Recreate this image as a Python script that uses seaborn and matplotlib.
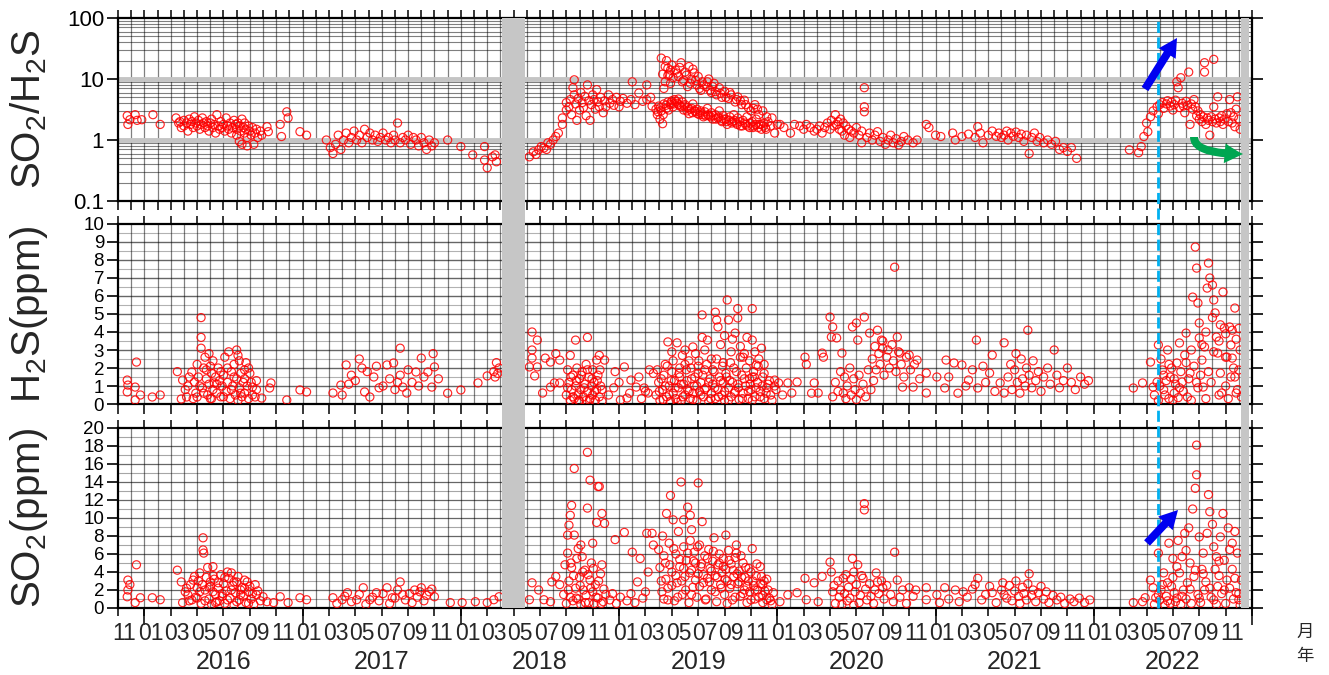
import matplotlib
matplotlib.use("Agg")
import matplotlib.pyplot as plt
import numpy as np
import pandas as pd
import seaborn as sns
from matplotlib.patches import Rectangle, FancyArrowPatch
from matplotlib.lines import Line2D
from matplotlib.transforms import blended_transform_factory

# x = months since 2015-11-01 (decimal)
# ---------------- SO2/H2S ratio ----------------
ratio_2015_17 = [
    (0.7, 2.5), (0.75, 1.8), (0.9, 2.15), (1.3, 2.6), (1.45, 2.1), (1.8, 2.15), (2.65, 2.6), (3.2, 1.8),
    (4.4, 2.3), (4.6, 1.9), (4.7, 2.0), (4.8, 1.6), (5.0, 1.7), (5.0, 2.1), (5.2, 1.9), (5.3, 1.4),
    (5.4, 2.2), (5.5, 1.8), (5.6, 2.0), (5.7, 1.6), (5.8, 2.4), (5.9, 1.9), (6.0, 1.7), (6.1, 2.1),
    (6.2, 1.5), (6.3, 1.8), (6.4, 2.3), (6.5, 1.9), (6.6, 1.6), (6.7, 2.0), (6.8, 1.7), (6.9, 1.4),
    (7.0, 1.9), (7.1, 2.2), (7.2, 1.6), (7.3, 1.8), (7.4, 1.3), (7.5, 2.6), (7.6, 1.7), (7.7, 1.5),
    (7.8, 2.0), (7.9, 1.6), (8.0, 1.8), (8.1, 1.4), (8.2, 2.3), (8.3, 1.7), (8.4, 1.5), (8.5, 1.9),
    (8.6, 1.3), (8.7, 1.6), (8.8, 2.1), (8.9, 1.8), (9.0, 1.5), (9.0, 1.2), (9.1, 1.9), (9.2, 1.7),
    (9.2, 0.95), (9.3, 1.4), (9.4, 2.2), (9.4, 0.85), (9.5, 1.6), (9.6, 1.3), (9.6, 1.9), (9.7, 1.5),
    (9.8, 1.1), (9.8, 0.8), (9.9, 1.7), (10.0, 1.4), (10.1, 1.2), (10.2, 1.6), (10.3, 0.85), (10.4, 1.3),
    (10.5, 1.5), (10.6, 1.1), (10.8, 1.4), (10.9, 1.2), (11.3, 1.65), (11.4, 1.37), (12.3, 1.8),
    (12.4, 1.14), (12.8, 2.9), (12.9, 2.3), (13.8, 1.37), (14.3, 1.2),
    (15.8, 1.0), (16.1, 0.75), (16.3, 0.6), (16.5, 0.85), (16.7, 1.2), (16.9, 0.7), (17.1, 1.0),
    (17.3, 1.3), (17.5, 0.9), (17.7, 1.1), (17.9, 1.4), (18.1, 1.0), (18.3, 1.2), (18.5, 0.9),
    (18.7, 1.5), (18.9, 1.1), (19.1, 1.3), (19.3, 1.0), (19.5, 1.2), (19.7, 0.95), (19.9, 1.1),
    (20.1, 1.3), (20.3, 1.0), (20.5, 1.1), (20.7, 0.9), (20.9, 1.2), (21.0, 1.0), (21.2, 1.9),
    (21.4, 0.9), (21.6, 1.1), (21.8, 1.0), (22.0, 1.2), (22.2, 0.85), (22.4, 1.1), (22.6, 1.0),
    (22.8, 0.8), (23.0, 1.1), (23.2, 0.9), (23.4, 0.7), (23.6, 1.0), (23.8, 0.8), (24.0, 0.9),
    (25.0, 1.0), (26.0, 0.78), (26.9, 0.57), (27.8, 0.78), (27.8, 0.47), (28.0, 0.35), (28.4, 0.53),
    (28.6, 0.57), (28.7, 0.44),
]
ratio_2018_19 = [
    (31.2, 0.53), (31.5, 0.64), (31.7, 0.58), (31.9, 0.69), (32.1, 0.78), (32.3, 0.74), (32.5, 0.7),
    (32.6, 0.9), (32.8, 0.85), (33.0, 1.0), (33.2, 1.14), (33.4, 1.3), (33.7, 1.8), (33.7, 2.3),
    (34.0, 3.1), (34.0, 4.1), (34.2, 3.5), (34.3, 4.6), (34.4, 2.6), (34.5, 7.2), (34.6, 9.7),
    (34.6, 5.5), (34.7, 3.9), (34.8, 2.1), (34.9, 4.8), (35.0, 3.1), (35.1, 6.0), (35.2, 4.1),
    (35.3, 3.4), (35.4, 5.2), (35.5, 2.5), (35.6, 8.0), (35.7, 4.4), (35.8, 2.1), (35.9, 3.8),
    (36.0, 5.5), (36.1, 4.6), (36.2, 3.2), (36.3, 6.7), (36.4, 4.2), (36.5, 3.5), (36.6, 5.0),
    (36.8, 2.8), (36.9, 4.4), (37.0, 3.5), (37.2, 5.5), (37.3, 4.0), (37.5, 4.6), (37.6, 3.7),
    (37.8, 5.0), (38.0, 3.5), (38.1, 4.3), (38.3, 4.8),
    (38.6, 4.0), (38.9, 4.6), (39.0, 9.0), (39.2, 3.8), (39.5, 5.9), (39.8, 4.3), (40.1, 8.0),
    (40.1, 4.6), (40.4, 5.0), (40.5, 3.6),
    (41.2, 22.0), (41.6, 20.0), (41.7, 15.0), (41.8, 12.0), (41.5, 9.0), (41.4, 7.0), (41.7, 11.5),
    (41.9, 8.5), (42.0, 17.0), (42.3, 14.0), (42.5, 11.0), (42.7, 18.5), (42.9, 9.5), (43.0, 13.0),
    (43.2, 7.5), (43.3, 16.0), (43.5, 10.0), (43.7, 12.6), (43.9, 8.0), (44.0, 11.0), (44.2, 6.5),
    (44.3, 9.0), (44.6, 7.5), (44.8, 10.0), (45.0, 6.0), (45.2, 8.5), (45.4, 5.5), (45.6, 7.2),
    (45.8, 5.0), (46.0, 6.3), (46.3, 4.8), (46.5, 5.5), (46.8, 4.2), (47.0, 5.1), (47.3, 3.8),
    (47.5, 4.5), (47.8, 3.4), (48.0, 3.0), (48.3, 3.8), (48.6, 2.6), (48.9, 3.0), (49.2, 2.4),
    (40.8, 3.2), (40.9, 2.6), (41.0, 3.6), (41.1, 2.2), (41.2, 3.0), (41.3, 1.85), (41.4, 3.9),
    (41.6, 3.3), (41.7, 4.2), (41.9, 3.8), (42.0, 4.4), (42.1, 3.5), (42.2, 4.6), (42.4, 4.0),
    (42.5, 4.7), (42.6, 3.6), (42.8, 4.2), (42.9, 3.1), (43.0, 3.8), (43.2, 3.4), (43.3, 2.7),
    (43.5, 3.3), (43.6, 3.9), (43.8, 2.9), (43.9, 3.2), (44.1, 2.6), (44.2, 3.0), (44.4, 2.4),
    (44.5, 2.9), (44.7, 3.3), (44.8, 2.5), (45.0, 2.8), (45.1, 2.2), (45.3, 2.6), (45.5, 2.3),
    (45.6, 3.0), (45.8, 2.0), (45.9, 2.5), (46.1, 2.2), (46.2, 1.8), (46.4, 2.4), (46.6, 2.0),
    (46.7, 2.6), (46.9, 1.9), (47.0, 2.3), (47.2, 1.7), (47.4, 2.1), (47.6, 1.8), (47.7, 2.4),
    (47.9, 1.6), (48.1, 2.0), (48.2, 1.7), (48.4, 2.2), (48.6, 1.8), (48.8, 1.5), (49.0, 1.9),
    (49.1, 1.6), (49.3, 2.0), (49.5, 1.7), (49.6, 2.3), (49.8, 1.3), (50.0, 1.8),
]
ratio_2019_band = [
    (40.95, 2.9), (41.15, 3.4), (41.35, 2.6), (41.55, 3.7), (41.75, 3.1), (41.95, 4.1), (42.15, 3.9),
    (42.35, 4.3), (42.55, 3.8), (42.75, 3.5), (42.95, 3.6), (43.15, 3.0), (43.35, 3.2), (43.55, 2.8),
    (43.75, 3.0), (43.95, 2.7), (44.15, 2.8), (44.35, 2.6), (44.55, 2.5), (44.75, 2.6), (44.95, 2.4),
    (45.15, 2.5), (45.35, 2.2), (45.55, 2.4), (45.75, 2.1), (45.95, 2.2), (46.15, 2.0), (46.35, 2.1),
    (46.55, 1.9), (46.75, 2.1), (46.95, 1.8), (47.15, 2.0), (47.35, 1.7), (47.55, 1.9), (47.75, 1.7),
    (47.95, 1.9), (48.15, 1.6), (48.35, 1.8), (48.55, 1.6), (48.75, 1.8), (48.95, 1.7), (49.15, 1.5),
    (41.3, 12.0), (41.5, 16.0), (41.9, 14.0), (42.1, 10.5), (42.4, 12.5), (42.6, 15.5), (42.8, 9.0),
    (43.1, 11.5), (43.4, 8.5), (43.6, 14.5), (43.8, 9.5), (44.1, 7.0), (44.4, 8.0), (44.7, 9.0),
    (44.9, 6.5), (45.1, 7.5), (45.3, 6.2), (45.7, 5.8), (46.1, 5.0), (46.4, 6.0), (46.9, 4.6),
    (47.2, 4.4), (47.6, 3.8), (48.2, 3.3), (48.5, 3.2),
]
ratio_2020_22 = [
    (50.2, 1.8), (50.5, 1.6), (51.0, 1.3), (51.3, 1.8), (51.7, 1.7), (52.0, 1.5), (52.2, 1.8),
    (52.5, 1.6), (52.8, 1.4), (53.0, 1.5), (53.2, 1.7), (53.4, 1.3), (53.6, 1.6), (53.8, 1.9),
    (54.0, 1.5), (54.1, 2.1), (54.3, 1.7), (54.4, 2.6), (54.5, 1.8), (54.6, 2.0), (54.7, 1.5),
    (54.8, 2.2), (54.9, 1.4), (55.0, 1.9), (55.1, 1.2), (55.2, 1.7), (55.4, 1.5), (55.5, 1.1),
    (55.6, 1.4), (55.8, 1.3), (56.0, 1.6), (56.2, 1.2), (56.4, 1.4), (56.6, 7.2), (56.6, 3.5),
    (56.6, 2.9), (56.4, 0.9), (56.8, 1.1), (57.0, 1.3), (57.2, 1.0), (57.4, 1.2), (57.6, 1.37),
    (57.8, 0.95), (58.0, 1.1), (58.2, 0.85), (58.4, 1.0), (58.6, 1.2), (58.8, 0.9), (59.0, 1.05),
    (59.2, 0.83), (59.4, 0.95), (59.6, 1.14), (59.9, 1.0), (60.3, 0.9), (60.6, 1.0), (61.3, 1.8),
    (61.5, 1.6),
    (62.0, 1.2), (62.4, 1.14), (63.3, 1.3), (63.5, 1.0), (64.0, 1.14), (64.5, 1.25), (65.0, 1.1),
    (65.2, 1.65), (65.4, 1.3), (65.6, 0.9), (66.0, 1.2), (66.3, 1.4), (66.6, 1.15), (66.8, 1.3),
    (67.0, 1.1), (67.2, 1.2), (67.4, 1.4), (67.5, 1.0), (67.7, 1.3), (67.9, 1.15), (68.1, 1.35),
    (68.3, 1.1), (68.5, 1.25), (68.7, 0.95), (68.9, 1.2), (69.1, 0.6), (69.3, 1.1), (69.5, 1.3),
    (69.7, 0.95), (69.9, 1.1), (70.2, 0.9), (70.5, 1.0), (70.8, 0.85), (71.1, 0.95), (71.4, 0.7),
    (71.7, 0.75), (72.0, 0.65), (72.3, 0.75), (72.7, 0.5),
    (76.7, 0.69), (77.4, 0.62), (77.6, 0.78), (77.8, 1.14), (78.1, 1.37), (78.0, 1.9), (78.3, 2.4),
    (78.5, 3.0), (78.8, 3.5), (78.9, 2.7), (79.0, 3.8), (79.2, 4.1), (79.3, 3.3), (79.5, 3.9),
    (79.6, 4.4), (79.8, 3.6), (79.9, 4.2), (80.0, 3.1), (80.1, 3.8), (80.2, 4.5), (80.3, 9.0),
    (80.4, 7.2), (80.5, 3.4), (80.6, 10.5), (80.7, 4.0), (80.8, 3.6), (80.9, 2.8), (81.0, 4.3),
    (81.1, 3.7), (81.2, 13.0), (81.3, 1.8), (81.4, 3.9), (81.5, 3.2), (81.6, 4.6), (81.7, 3.5),
    (81.8, 2.5), (81.9, 3.0), (82.0, 2.2), (82.1, 2.6), (82.2, 2.0), (82.3, 2.4), (82.4, 18.5),
    (82.4, 13.0), (82.5, 1.8), (82.6, 2.3), (82.7, 2.1), (82.8, 1.2), (82.9, 2.4), (83.0, 2.0),
    (83.1, 21.0), (83.1, 3.5), (83.2, 2.2), (83.3, 1.9), (83.4, 5.1), (83.5, 2.3), (83.6, 2.0),
    (83.7, 2.5), (83.8, 1.8), (83.9, 2.2), (84.1, 2.7), (84.2, 2.0), (84.3, 4.6), (84.4, 2.8),
    (84.5, 1.9), (84.6, 2.4), (84.7, 1.65), (84.8, 3.2), (84.9, 5.1), (85.0, 2.2), (85.1, 1.5),
]

# ---------------- H2S (ppm) ----------------
h2s_2015_17 = [
    (0.7, 1.33), (0.75, 1.05), (0.7, 0.67), (1.3, 0.94), (1.3, 0.22), (1.4, 2.33), (1.7, 0.5),
    (2.6, 0.39), (3.2, 0.5),
    (4.5, 1.8), (4.8, 0.28), (4.9, 1.33), (5.2, 0.39), (5.3, 1.0), (5.6, 1.78), (5.8, 1.22),
    (5.9, 0.6), (6.0, 0.39), (6.1, 1.5), (6.3, 4.8), (6.3, 3.7), (6.3, 3.1), (6.4, 0.9), (6.5, 2.0),
    (6.6, 2.6), (6.7, 1.4), (6.8, 0.5), (6.9, 2.8), (6.9, 1.1), (7.0, 2.1), (7.1, 0.3), (7.1, 1.7),
    (7.2, 0.8), (7.3, 1.17), (7.4, 1.5), (7.5, 0.6), (7.6, 2.0), (7.7, 1.3), (7.8, 0.4), (7.9, 1.0),
    (8.0, 1.6), (8.1, 2.6), (8.2, 0.7), (8.3, 1.2), (8.4, 2.9), (8.5, 0.3), (8.6, 1.8), (8.7, 1.0),
    (8.8, 2.2), (8.9, 0.5), (9.0, 3.0), (9.0, 1.4), (9.1, 0.2), (9.2, 2.4), (9.2, 0.9), (9.3, 1.7),
    (9.4, 0.4), (9.5, 1.2), (9.6, 1.9), (9.6, 0.6), (9.7, 2.3), (9.8, 1.0), (9.9, 0.3), (10.0, 1.7),
    (10.1, 1.2), (10.2, 0.94), (10.4, 0.39), (10.5, 0.8), (10.9, 0.33), (11.5, 0.89), (11.6, 1.17),
    (12.8, 0.22), (13.8, 0.78), (14.3, 0.67),
    (5.1, 0.8), (5.4, 1.5), (5.7, 0.3), (6.0, 2.2), (6.2, 1.0), (6.5, 0.6), (6.7, 1.9), (7.0, 0.3),
    (7.2, 2.4), (7.5, 1.1), (7.8, 1.8), (8.0, 0.4), (8.3, 2.0), (8.6, 0.8), (8.8, 1.5), (9.1, 2.7),
    (9.3, 0.6), (9.6, 1.4), (9.9, 2.0), (10.2, 0.5), (10.5, 1.3),
    (16.3, 0.61), (16.9, 1.05), (17.3, 2.17), (17.7, 1.6), (18.3, 2.5), (18.5, 2.0), (18.7, 0.67),
    (19.1, 0.39), (19.4, 1.5), (19.8, 0.9), (20.4, 2.17), (20.9, 2.28), (21.2, 1.2), (21.4, 3.1),
    (21.4, 1.6), (21.6, 0.94), (21.9, 0.61), (22.6, 1.78), (23.0, 2.55), (23.5, 1.78), (23.9, 2.8),
    (24.0, 2.06), (23.8, 0.94), (25.0, 0.6), (17.0, 0.5), (17.5, 1.1), (18.0, 1.3), (18.9, 1.8),
    (19.6, 2.1), (20.1, 1.0), (20.6, 1.4), (21.0, 0.8), (22.0, 1.9), (22.3, 1.2), (22.8, 1.0),
    (23.2, 1.5), (24.3, 1.4),
    (26.0, 0.78), (27.3, 1.17), (28.0, 1.56), (28.5, 1.8), (28.7, 2.3), (28.6, 1.5), (28.9, 2.0),
    (28.8, 1.7),
]
h2s_2018_19 = [
    (31.4, 4.0), (31.4, 3.0), (31.4, 2.55), (31.2, 2.06), (31.8, 3.55), (31.8, 2.06), (31.6, 1.56),
    (32.2, 0.61), (32.4, 2.55), (32.8, 2.33), (33.2, 2.8), (33.5, 2.44), (32.8, 0.94), (33.1, 1.17),
    (33.5, 1.17), (34.1, 1.9), (34.3, 2.7), (34.7, 3.55), (35.6, 3.7),
    (34.0, 0.5), (34.2, 1.2), (34.3, 0.2), (34.4, 0.8), (34.5, 1.6), (34.6, 0.3), (34.7, 1.0),
    (34.8, 2.0), (34.9, 0.5), (35.0, 1.4), (35.0, 0.15), (35.1, 0.8), (35.2, 1.8), (35.3, 0.4),
    (35.4, 1.1), (35.5, 0.2), (35.5, 2.2), (35.6, 0.7), (35.7, 1.5), (35.8, 0.3), (35.9, 1.0),
    (36.0, 1.9), (36.0, 0.5), (36.1, 1.2), (36.2, 0.2), (36.3, 0.8), (36.4, 1.6), (36.5, 0.4),
    (36.6, 1.0), (36.7, 0.15), (36.3, 2.44), (36.5, 2.7), (36.9, 2.44), (37.7, 1.8), (38.4, 2.06),
    (38.9, 1.33), (39.3, 0.94), (39.9, 0.89), (40.3, 1.9), (40.6, 1.7), (40.2, 0.61), (38.6, 0.33),
    (38.1, 0.22), (37.2, 0.5), (37.6, 0.9), (38.0, 1.2), (38.8, 0.6), (39.5, 1.5), (39.7, 0.3),
    (40.0, 0.7),
    (34.1, 0.9), (34.35, 1.5), (34.5, 0.4), (34.75, 1.3), (34.95, 0.2), (35.15, 1.6), (35.35, 0.9),
    (35.6, 1.9), (35.75, 0.2), (35.95, 1.4), (36.15, 0.7), (36.35, 1.3), (36.55, 1.9), (36.7, 0.8),
    (41.7, 3.45), (42.4, 3.4), (42.8, 2.7), (43.6, 3.17), (44.3, 4.95), (44.3, 3.7), (44.7, 3.55),
    (45.3, 5.1), (45.4, 4.67), (45.5, 4.28), (46.2, 5.78), (46.3, 4.67), (47.0, 5.3), (47.0, 4.78),
    (46.8, 3.94), (48.1, 5.3), (48.1, 3.55), (48.8, 3.1), (47.4, 2.6), (48.4, 2.17), (48.1, 1.5),
    (41.5, 2.2), (42.0, 2.9), (42.6, 2.0), (43.0, 3.0), (43.3, 2.4), (43.8, 2.8), (44.0, 2.1),
    (44.5, 3.0), (45.0, 2.5), (45.7, 3.3), (45.9, 2.3), (46.0, 3.8), (46.5, 2.9), (46.6, 3.6),
    (47.2, 3.2), (47.5, 2.8), (47.7, 3.7), (47.9, 2.4), (48.3, 2.9), (48.6, 2.5), (49.0, 2.2),
    (40.8, 0.5), (41.0, 1.2), (41.1, 0.2), (41.3, 0.8), (41.4, 1.6), (41.6, 0.4), (41.8, 1.0),
    (41.9, 0.15), (42.0, 1.8), (42.1, 0.6), (42.2, 1.3), (42.3, 0.3), (42.5, 0.9), (42.6, 1.5),
    (42.7, 0.2), (42.9, 1.1), (43.0, 0.5), (43.1, 1.9), (43.2, 0.8), (43.4, 0.3), (43.5, 1.4),
    (43.6, 0.6), (43.7, 1.0), (43.9, 0.2), (44.0, 1.7), (44.1, 0.7), (44.2, 1.2), (44.4, 0.4),
    (44.5, 1.9), (44.6, 0.9), (44.8, 0.15), (44.9, 1.4), (45.0, 0.6), (45.1, 1.1), (45.2, 1.8),
    (45.3, 0.3), (45.5, 0.8), (45.6, 1.5), (45.8, 0.5), (45.9, 1.2), (46.0, 0.2), (46.1, 1.7),
    (46.3, 0.9), (46.4, 1.3), (46.5, 0.4), (46.7, 2.0), (46.8, 0.7), (47.0, 1.1), (47.1, 0.25),
    (47.3, 1.6), (47.4, 0.6), (47.6, 1.0), (47.8, 0.3), (47.9, 1.4), (48.0, 0.8), (48.2, 1.8),
    (48.3, 0.4), (48.5, 1.2), (48.7, 0.7), (48.9, 1.5), (49.0, 0.3), (49.2, 0.9), (49.4, 1.3),
    (49.5, 0.5), (49.8, 1.0), (49.8, 1.33), (50.1, 1.17), (50.4, 0.5), (50.8, 1.17), (51.1, 0.61),
    (51.5, 1.22),
]
h2s_2019_dense = [
    (40.9, 1.9), (41.05, 0.7), (41.2, 1.4), (41.35, 0.25), (41.5, 1.0), (41.65, 2.1), (41.8, 0.5),
    (41.95, 1.3), (42.1, 2.4), (42.25, 0.9), (42.4, 0.1), (42.55, 1.7), (42.7, 1.1), (42.85, 0.4),
    (43.0, 2.2), (43.15, 1.3), (43.3, 0.7), (43.45, 2.0), (43.6, 0.25), (43.75, 1.5), (43.9, 1.0),
    (44.05, 2.4), (44.2, 0.5), (44.35, 1.6), (44.5, 0.8), (44.65, 2.2), (44.8, 1.2), (44.95, 0.3),
    (45.1, 1.9), (45.25, 0.9), (45.4, 2.5), (45.55, 0.4), (45.7, 1.3), (45.85, 2.1), (46.0, 0.7),
    (46.15, 1.5), (46.3, 0.2), (46.45, 2.3), (46.6, 1.2), (46.75, 0.6), (46.9, 1.8), (47.05, 0.9),
    (47.2, 2.6), (47.35, 0.3), (47.5, 1.4), (47.65, 2.0), (47.8, 0.7), (47.95, 1.1), (48.1, 0.2),
    (48.25, 1.5), (48.4, 0.9), (48.55, 2.1), (48.7, 0.4), (48.85, 1.0), (49.0, 1.7), (49.15, 0.6),
    (49.3, 1.1), (49.6, 0.2), (49.9, 0.8),
]
h2s_2020_22 = [
    (52.1, 2.6), (52.2, 2.2), (52.6, 0.6), (52.8, 1.17), (53.1, 0.61), (53.4, 2.83), (53.5, 2.6),
    (54.0, 4.83), (54.2, 4.28), (54.1, 3.72), (54.5, 3.67), (54.9, 2.83), (55.1, 1.5), (55.0, 0.61),
    (55.7, 4.28), (56.0, 4.5), (56.6, 4.83), (56.1, 3.55), (57.0, 3.94), (57.6, 4.1), (57.9, 3.55),
    (58.0, 3.1), (58.9, 7.6), (59.1, 3.72), (59.3, 2.83), (60.0, 2.72), (60.6, 2.44), (59.5, 0.94),
    (60.3, 0.94), (61.3, 1.72), (61.3, 0.61), (62.1, 1.5),
    (54.2, 0.4), (54.4, 1.2), (54.6, 0.7), (54.8, 1.8), (55.2, 0.3), (55.3, 1.0), (55.5, 2.0),
    (55.6, 0.5), (55.8, 1.4), (55.9, 0.8), (56.0, 0.25), (56.2, 1.6), (56.3, 0.6), (56.5, 1.1),
    (56.7, 0.4), (56.9, 1.9), (57.1, 0.8), (57.3, 1.3),
    (57.2, 2.5), (57.4, 3.2), (57.5, 1.9), (57.7, 2.8), (57.8, 2.2), (58.0, 3.5), (58.1, 1.6),
    (58.3, 2.6), (58.4, 3.0), (58.5, 2.0), (58.7, 3.3), (58.8, 2.4), (59.0, 1.8), (59.2, 2.9),
    (59.4, 2.2), (59.6, 1.5), (59.8, 2.6), (60.1, 1.9), (60.4, 2.2), (60.8, 1.4),
    (62.8, 2.44), (63.4, 2.28), (62.7, 0.89), (64.0, 2.17), (64.5, 1.33), (65.1, 3.55), (65.2, 0.89),
    (66.1, 1.72), (66.3, 2.72), (67.2, 3.4), (66.9, 1.17), (67.2, 0.61),
    (67.5, 1.5), (67.7, 2.2), (67.8, 0.8), (68.0, 1.9), (68.1, 2.8), (68.2, 1.2), (68.4, 0.6),
    (68.5, 2.5), (68.6, 1.4), (68.8, 1.0), (68.9, 2.0), (69.0, 4.1), (69.1, 1.6), (69.3, 0.9),
    (69.4, 2.4), (69.6, 1.3), (69.8, 1.8), (70.0, 0.7), (70.2, 1.5), (70.5, 2.0), (70.7, 1.1),
    (71.0, 3.0), (71.2, 1.6), (71.4, 0.9), (71.7, 1.3), (72.0, 2.0), (72.3, 1.2), (72.6, 0.8),
    (73.0, 1.5), (73.3, 1.1), (73.6, 1.3), (63.0, 1.5), (63.7, 0.6), (64.3, 1.0), (64.8, 1.9),
    (65.6, 2.1), (65.8, 1.2), (66.5, 0.7),
    (77.0, 0.89), (77.7, 1.17), (78.3, 2.33), (78.5, 0.94), (78.8, 1.22), (78.9, 3.28), (79.2, 1.89),
    (79.4, 0.5), (79.6, 3.0), (79.8, 1.5), (80.0, 0.22), (80.3, 2.28), (80.5, 3.39), (80.7, 1.22),
    (80.9, 2.72), (81.0, 3.94), (81.1, 0.39), (81.3, 1.72), (81.5, 5.94), (81.7, 8.72), (81.8, 7.55),
    (81.9, 5.61), (82.0, 3.67), (82.2, 2.44), (82.3, 0.94), (82.4, 3.17), (82.6, 6.44), (82.7, 7.83),
    (82.8, 7.0), (83.0, 6.61), (83.1, 5.78), (83.2, 5.06), (83.3, 3.72), (83.4, 2.83), (83.6, 1.72),
    (83.7, 0.61), (83.8, 6.22), (83.9, 4.22), (84.1, 2.61), (84.3, 4.28), (84.4, 3.28), (84.5, 2.55),
    (84.7, 5.33), (84.7, 1.5), (84.8, 0.61), (85.0, 1.89), (85.2, 0.39),
    (78.6, 0.5), (78.9, 0.2), (79.0, 1.0), (79.1, 2.5), (79.3, 0.8), (79.5, 1.3), (79.7, 0.3),
    (79.9, 2.0), (80.1, 0.6), (80.2, 1.1), (80.4, 0.35), (80.6, 1.8), (80.8, 0.7), (81.2, 1.4),
    (81.4, 0.2), (81.6, 2.1), (81.9, 0.9), (82.1, 1.6), (82.5, 0.3), (82.9, 1.2), (83.5, 0.5),
    (84.0, 1.0), (84.2, 0.3), (84.6, 2.0), (84.9, 0.8), (85.1, 3.0), (82.0, 4.5), (82.5, 4.0),
    (83.0, 4.8), (83.5, 3.5), (84.0, 3.9), (84.5, 4.1), (85.0, 4.2),
    (79.3, 1.6), (79.7, 2.2), (80.1, 1.4), (80.5, 0.9), (81.0, 2.3), (81.4, 3.0), (81.8, 1.2),
    (82.2, 3.3), (82.7, 1.8), (83.1, 2.9), (83.6, 4.4), (84.0, 2.6), (84.4, 1.5), (84.8, 3.6),
]

# ---------------- SO2 (ppm) ----------------
so2_2015_17 = [
    (0.75, 3.1), (0.9, 2.6), (0.75, 2.0), (0.7, 1.25), (1.4, 4.8), (1.3, 0.6), (1.7, 1.14),
    (2.6, 1.14), (3.2, 0.92),
    (4.5, 4.2), (4.8, 2.9), (5.1, 1.8), (4.9, 0.6), (5.3, 1.47), (5.8, 3.5), (6.0, 2.25), (6.2, 1.8),
    (6.45, 7.8), (6.45, 6.45), (6.5, 6.1), (6.8, 4.5), (7.2, 4.6), (7.0, 2.9), (7.2, 1.8), (7.5, 0.7),
    (8.3, 4.0), (8.6, 3.9), (9.0, 2.9), (9.4, 2.25), (9.8, 2.9), (10.4, 2.6), (10.5, 1.47),
    (11.0, 1.25), (11.3, 0.7), (11.8, 0.6), (12.3, 1.25), (12.9, 0.6), (13.8, 1.14), (14.3, 0.92),
    (5.5, 2.6), (5.6, 0.9), (5.9, 1.2), (6.1, 3.0), (6.3, 0.5), (6.6, 2.0), (6.7, 3.4), (6.9, 1.0),
    (7.0, 2.4), (7.1, 0.4), (7.3, 3.2), (7.4, 1.5), (7.6, 2.2), (7.7, 0.8), (7.8, 3.7), (7.9, 1.3),
    (8.0, 2.7), (8.1, 0.5), (8.2, 1.9), (8.4, 3.3), (8.5, 1.1), (8.7, 2.5), (8.8, 0.3), (8.9, 1.7),
    (9.1, 3.5), (9.2, 0.9), (9.3, 2.0), (9.5, 1.3), (9.6, 3.1), (9.7, 0.6), (9.9, 1.8), (10.0, 2.4),
    (10.1, 1.0), (10.3, 0.4), (10.6, 1.9), (10.8, 0.8),
    (5.2, 2.2), (5.4, 0.8), (5.7, 3.1), (6.0, 1.1), (6.2, 3.9), (6.4, 2.6), (6.6, 0.8), (6.9, 2.3),
    (7.2, 3.6), (7.4, 0.6), (7.6, 2.8), (7.9, 1.6), (8.1, 3.4), (8.3, 0.9), (8.6, 2.0), (8.8, 2.9),
    (9.0, 0.7), (9.3, 1.5), (9.6, 2.2), (9.9, 0.5), (10.2, 1.6),
    (16.3, 1.14), (17.0, 0.92), (17.4, 1.7), (18.1, 0.92), (18.6, 2.25), (19.1, 0.92), (19.6, 1.7),
    (20.4, 2.25), (20.8, 1.14), (21.4, 2.9), (21.6, 1.47), (22.5, 2.0), (23.0, 2.25), (23.6, 1.8),
    (24.0, 1.25), (25.2, 0.6), (26.1, 0.6), (27.1, 0.7), (28.0, 0.6), (28.5, 0.92), (28.9, 1.25),
    (16.6, 0.5), (17.2, 1.3), (17.7, 0.7), (18.3, 1.5), (18.8, 0.4), (19.3, 1.2), (19.8, 0.8),
    (20.1, 1.6), (20.6, 0.5), (21.0, 1.1), (21.2, 2.0), (21.8, 0.9), (22.1, 1.6), (22.3, 0.6),
    (22.7, 1.2), (22.9, 1.8), (23.2, 0.8), (23.4, 1.4), (23.8, 2.1),
]
so2_2018_19 = [
    (31.2, 0.92), (31.4, 2.8), (31.9, 2.0), (32.3, 0.92), (32.8, 0.7), (32.9, 2.9), (33.2, 3.5),
    (33.5, 2.6), (33.9, 4.8), (34.1, 6.1), (34.1, 8.1), (34.2, 9.2), (34.3, 10.3), (34.4, 11.4),
    (34.6, 15.5), (34.6, 8.1), (35.2, 5.7), (35.1, 7.0), (35.6, 17.3), (35.6, 11.1), (35.8, 14.2),
    (36.0, 7.2), (36.3, 9.5), (36.4, 13.5), (36.5, 13.5), (36.7, 4.8), (36.7, 10.5), (36.9, 9.4),
    (37.7, 7.6), (38.4, 8.4), (39.0, 6.2), (39.4, 2.9), (39.6, 5.5), (40.1, 8.3), (40.2, 4.0),
    (40.5, 8.3), (40.6, 7.0), (40.0, 1.8),
    (33.8, 1.5), (34.0, 0.5), (34.2, 3.0), (34.3, 1.2), (34.4, 4.5), (34.5, 0.8), (34.7, 2.2),
    (34.8, 5.5), (34.9, 1.0), (35.0, 3.4), (35.1, 0.4), (35.3, 2.0), (35.4, 4.2), (35.5, 1.4),
    (35.7, 0.6), (35.8, 3.1), (35.9, 5.0), (36.0, 1.8), (36.1, 0.5), (36.2, 2.6), (36.4, 1.1),
    (36.6, 3.8), (36.8, 0.7), (37.0, 1.5), (37.3, 0.9), (37.5, 1.6), (37.8, 0.5), (38.1, 1.2),
    (38.6, 0.8), (38.9, 1.6), (39.2, 0.6), (39.8, 1.1),
    (34.15, 2.0), (34.35, 5.0), (34.55, 3.6), (34.75, 1.1), (34.9, 6.6), (35.05, 2.5), (35.25, 4.0),
    (35.45, 0.6), (35.65, 3.7), (35.85, 2.2), (36.05, 4.4), (36.25, 1.2), (36.45, 3.0), (36.65, 0.5),
    (36.85, 2.1),
    (41.6, 10.5), (41.9, 12.5), (42.7, 14.0), (43.2, 11.2), (43.4, 10.3), (42.9, 9.8), (42.1, 9.8),
    (44.3, 9.6), (43.5, 8.7), (44.0, 13.9), (46.1, 8.1), (46.9, 7.0), (48.1, 6.6), (46.9, 6.1),
    (48.8, 3.5), (48.9, 2.6), (49.2, 0.92), (49.7, 1.7), (50.2, 0.7), (50.8, 1.47), (51.5, 1.7),
    (41.0, 6.5), (41.2, 3.0), (41.3, 8.0), (41.4, 1.0), (41.5, 5.0), (41.7, 2.2), (41.8, 7.2),
    (42.0, 4.0), (42.2, 0.8), (42.3, 6.0), (42.4, 2.8), (42.5, 8.5), (42.6, 4.6), (42.8, 1.5),
    (42.9, 6.8), (43.0, 3.5), (43.1, 5.3), (43.3, 0.6), (43.4, 7.5), (43.5, 4.2), (43.6, 2.3),
    (43.7, 6.2), (43.8, 5.0), (43.9, 1.2), (44.0, 3.8), (44.1, 7.0), (44.2, 4.6), (44.4, 2.8),
    (44.5, 5.8), (44.6, 1.0), (44.7, 3.3), (44.8, 6.5), (44.9, 4.4), (45.0, 2.0), (45.1, 5.2),
    (45.2, 7.8), (45.3, 3.6), (45.4, 0.7), (45.5, 4.8), (45.6, 6.0), (45.7, 2.6), (45.8, 3.9),
    (45.9, 5.5), (46.0, 1.5), (46.1, 4.3), (46.2, 3.0), (46.3, 6.4), (46.4, 2.2), (46.5, 4.9),
    (46.6, 0.9), (46.7, 3.5), (46.8, 5.6), (47.0, 2.7), (47.1, 4.1), (47.2, 1.3), (47.3, 3.4),
    (47.4, 5.0), (47.5, 2.0), (47.6, 4.5), (47.7, 0.6), (47.8, 3.0), (47.9, 1.8), (48.0, 4.0),
    (48.2, 2.5), (48.3, 1.0), (48.4, 3.6), (48.5, 2.0), (48.7, 4.6), (48.9, 1.4), (49.0, 3.0),
    (49.3, 2.0), (49.5, 0.8),
]
so2_2019_dense = [
    (41.1, 4.5), (41.25, 1.8), (41.4, 5.8), (41.55, 3.2), (41.7, 0.9), (41.85, 4.8), (42.0, 2.5),
    (42.15, 6.6), (42.3, 3.6), (42.45, 1.2), (42.6, 5.4), (42.75, 3.0), (42.9, 4.4), (43.05, 2.0),
    (43.2, 6.1), (43.35, 3.9), (43.5, 1.5), (43.65, 5.2), (43.8, 3.1), (43.95, 6.8), (44.1, 2.4),
    (44.25, 4.9), (44.4, 3.7), (44.55, 0.9), (44.7, 5.5), (44.85, 2.9), (45.0, 4.1), (45.15, 6.3),
    (45.3, 1.8), (45.45, 3.4), (45.6, 5.0), (45.75, 2.2), (45.9, 4.6), (46.05, 3.2), (46.2, 0.5),
    (46.35, 5.3), (46.5, 2.6), (46.65, 4.2), (46.8, 1.2), (46.95, 3.8), (47.1, 2.9), (47.25, 5.8),
    (47.4, 1.6), (47.55, 3.4), (47.7, 2.4), (47.85, 4.4), (48.0, 0.9), (48.15, 3.0), (48.3, 2.0),
    (48.45, 4.9), (48.6, 1.2), (48.75, 2.7), (48.9, 0.6), (49.05, 1.9), (49.2, 3.2), (49.4, 1.1),
    (49.6, 0.4),
]
so2_2020_22 = [
    (52.1, 3.3), (52.2, 0.92), (52.8, 2.8), (53.1, 0.7), (53.4, 3.5), (54.0, 5.1), (54.1, 4.0),
    (54.2, 1.8), (55.0, 3.3), (55.7, 5.5), (55.8, 4.0), (56.1, 4.8), (56.6, 11.6), (56.6, 10.9),
    (56.5, 3.3), (57.5, 3.9), (57.6, 2.9), (58.0, 2.25), (58.9, 6.2), (59.1, 3.1), (59.5, 2.0),
    (60.0, 2.25), (60.5, 2.0), (61.3, 2.25), (61.3, 0.92), (62.1, 1.47), (62.7, 2.25), (63.5, 2.0),
    (64.1, 1.8), (65.0, 2.6), (65.2, 3.3), (66.1, 2.4), (66.3, 1.7), (67.1, 2.8), (67.2, 1.47),
    (54.3, 2.5), (54.4, 0.5), (54.6, 3.0), (54.7, 1.2), (54.8, 2.0), (54.9, 0.4), (55.1, 1.6),
    (55.2, 3.7), (55.3, 0.8), (55.4, 2.3), (55.5, 1.1), (55.6, 3.2), (55.8, 0.3), (55.9, 1.8),
    (56.0, 2.6), (56.2, 0.6), (56.3, 1.4), (56.4, 3.6), (56.7, 2.1), (56.8, 0.9), (57.0, 2.7),
    (57.1, 1.3), (57.3, 0.5), (57.4, 2.0), (57.7, 1.6), (57.9, 3.0), (58.1, 1.0), (58.3, 2.5),
    (58.6, 1.5), (58.8, 0.7), (59.3, 1.2), (59.8, 0.5), (60.3, 1.3),
    (62.3, 0.6), (63.0, 1.0), (63.8, 0.7), (64.4, 1.2), (64.8, 2.1), (65.5, 0.9), (65.8, 1.5),
    (66.6, 0.6), (67.0, 2.0), (67.4, 1.1), (67.6, 2.5), (67.8, 0.8), (68.0, 1.9), (68.1, 3.0),
    (68.3, 1.3), (68.4, 0.5), (68.6, 2.3), (68.7, 1.6), (68.9, 0.9), (69.0, 2.7), (69.1, 3.8),
    (69.3, 1.4), (69.4, 2.0), (69.6, 0.7), (69.8, 1.7), (70.0, 2.4), (70.2, 1.0), (70.4, 1.8),
    (70.6, 0.6), (70.9, 1.4), (71.2, 0.9), (71.5, 1.2), (71.8, 0.5), (72.2, 1.0), (72.5, 0.7),
    (72.9, 1.1), (73.3, 0.6), (73.7, 0.9),
    (77.0, 0.6), (77.7, 0.7), (77.9, 1.14), (78.3, 3.1), (78.5, 2.25), (78.7, 1.14), (78.9, 6.1),
    (78.9, 1.47), (79.3, 3.9), (79.6, 2.8), (79.7, 7.2), (80.0, 5.5), (80.1, 1.7), (80.2, 0.7),
    (80.4, 7.5), (80.5, 3.9), (80.7, 5.7), (80.9, 8.3), (81.1, 2.8), (81.2, 8.9), (81.3, 5.0),
    (81.5, 11.0), (81.7, 13.3), (81.8, 14.8), (81.8, 18.1), (82.0, 7.9), (82.2, 4.3), (82.3, 6.1),
    (82.4, 2.0), (82.6, 8.3), (82.7, 12.6), (82.8, 10.7), (83.0, 9.3), (83.1, 6.8), (83.2, 4.3),
    (83.3, 5.7), (83.4, 2.4), (83.6, 7.9), (83.8, 10.5), (83.9, 5.3), (84.1, 3.1), (84.2, 8.9),
    (84.5, 7.2), (84.5, 4.3), (84.7, 8.5), (84.8, 1.7), (84.9, 6.1), (85.0, 0.92), (85.2, 3.1),
    (78.6, 0.4), (79.0, 0.9), (79.1, 2.0), (79.4, 0.3), (79.5, 1.3), (79.8, 0.5), (79.9, 2.4),
    (80.3, 1.1), (80.6, 0.4), (80.8, 2.0), (81.0, 1.0), (81.4, 0.5), (81.6, 3.5), (81.9, 1.5),
    (82.1, 0.6), (82.5, 2.9), (82.9, 1.2), (83.3, 0.4), (83.5, 3.6), (83.7, 1.6), (84.0, 0.5),
    (84.3, 2.2), (84.6, 1.0), (85.1, 0.3),
    (79.2, 2.6), (79.6, 0.8), (80.0, 3.4), (80.3, 4.6), (80.7, 1.3), (81.0, 6.4), (81.3, 2.1),
    (81.7, 4.2), (82.0, 1.1), (82.3, 3.8), (82.8, 2.2), (83.1, 0.9), (83.5, 5.2), (83.9, 2.0),
    (84.3, 6.5), (84.7, 3.3), (85.0, 1.6),
]

# ---------------- axis text ----------------
years = [2016, 2017, 2018, 2019, 2020, 2021, 2022]
panel_labels = ["SO$_2$/H$_2$S", "H$_2$S(ppm)", "SO$_2$(ppm)"]
ratio_ticks = [0.1, 1, 10, 100]
ratio_ticklabels = ["0.1", "1", "10", "100"]
h2s_ticks = list(range(0, 11))
so2_ticks = list(range(0, 21, 2))
gap_band = (29.1, 30.9)       # missing-data period (months since 2015-11)
end_band = (85.2, 85.75)
event_month = 78.85           # dashed reference line

sns.set_theme(style="white")
plt.rcParams["font.family"] = ["Liberation Sans", "DejaVu Sans"]
plt.rcParams["mathtext.fontset"] = "custom"
plt.rcParams["mathtext.rm"] = "Liberation Sans"
plt.rcParams["mathtext.it"] = "Liberation Sans:italic"
plt.rcParams["mathtext.default"] = "regular"

W, H = 1329, 675
fig = plt.figure(figsize=(W / 100, H / 100), dpi=100)
L, R = 118, 1252
panels = [(18, 201), (224, 404), (428, 608)]
axes = [fig.add_axes([L / W, 1 - b / H, (R - L) / W, (b - t) / H]) for t, b in panels]
NM = 86

datasets = [ratio_2015_17 + ratio_2018_19 + ratio_2019_band + ratio_2020_22,
            h2s_2015_17 + h2s_2018_19 + h2s_2019_dense + h2s_2020_22,
            so2_2015_17 + so2_2018_19 + so2_2019_dense + so2_2020_22]

for i, (ax, pts) in enumerate(zip(axes, datasets)):
    df = pd.DataFrame(pts, columns=["month", "value"])
    if i == 0:
        ax.set_yscale("log")
    sns.scatterplot(data=df, x="month", y="value", ax=ax, marker="o", s=34,
                    facecolors="none", edgecolor="#ff0000", linewidth=0.85,
                    alpha=0.85, zorder=4, legend=False)
    ax.set_xlim(0, NM)
    ax.set_xlabel("")
    ax.set_ylabel("")
    ax.set_facecolor("white")
    for s in ax.spines.values():
        s.set_linewidth(1.6)
        s.set_color("black")
    for m in range(1, NM):
        ax.axvline(m, color="black", lw=0.9, alpha=0.5, zorder=1)
    ax.set_xticks([])

ax0, ax1, ax2 = axes
ax0.set_ylim(0.1, 100)
for d in [0.1, 1, 10]:
    for k in range(2, 10):
        ax0.axhline(k * d, color="black", lw=0.8, alpha=0.5, zorder=1)
for d in [1, 10]:
    ax0.axhline(d, color="#c4c4c4", lw=3.5, zorder=1.5)
ax0.set_yticks(ratio_ticks)
ax0.set_yticklabels(ratio_ticklabels)
ax0.yaxis.set_minor_locator(matplotlib.ticker.NullLocator())

ax1.set_ylim(0, 10)
for v in np.arange(0.5, 10, 0.5):
    if float(v).is_integer():
        ax1.axhline(v, color="black", lw=1.0, alpha=0.6, zorder=1)
    else:
        ax1.axhline(v, color="black", lw=0.8, alpha=0.3, zorder=1)
ax1.set_yticks(h2s_ticks)

ax2.set_ylim(0, 20)
for v in range(1, 20):
    ax2.axhline(v, color="black", lw=0.9 if v % 2 == 0 else 0.8,
                alpha=0.6 if v % 2 == 0 else 0.35, zorder=1)
ax2.set_yticks(so2_ticks)

for ax, fs in zip(axes, [16, 13.5, 13.5]):
    ax.tick_params(axis="y", which="major", direction="out", length=8, width=1.2,
                   left=True, right=True, labelsize=fs, pad=2, colors="black")
    ax.tick_params(axis="y", which="minor", length=0)


def xticks(ax, months, side, length_px, h_px):
    tr = ax.get_xaxis_transform()
    f = length_px / h_px
    if side == "top":
        ax.vlines(months, 1, 1 + f, transform=tr, clip_on=False, colors="black", lw=1.1)
    else:
        ax.vlines(months, -f, 0, transform=tr, clip_on=False, colors="black", lw=1.1)


monthly = list(range(0, NM + 1))
bimonthly = list(range(0, NM + 1, 2))
jan = list(range(2, NM + 1, 12))
hs = [b - t for t, b in panels]
xticks(ax0, monthly, "top", 8, hs[0])
xticks(ax0, monthly, "bottom", 9, hs[0])
xticks(ax1, bimonthly, "top", 8, hs[1])
xticks(ax1, bimonthly, "bottom", 10, hs[1])
xticks(ax2, bimonthly, "top", 8, hs[2])
xticks(ax2, bimonthly, "bottom", 8, hs[2])
xticks(ax2, jan, "bottom", 17, hs[2])

tr2 = ax2.get_xaxis_transform()
for k in range(0, NM // 2):
    lab = f"{(10 + 2 * k) % 12 + 1:02d}"
    ax2.text(2 * k + 0.5, -(634 - 608) / hs[2], lab, transform=tr2, ha="center",
             va="center", fontsize=16.5)
for j, yr in enumerate(years):
    ax2.text(8 + 12 * j, -(662 - 608) / hs[2], str(yr), transform=tr2, ha="center",
             va="center", fontsize=18)

fig.text(1305 / W, 1 - 632 / H, "月", family=["Noto Sans CJK JP"], fontsize=12.5,
         ha="center", va="center")
fig.text(1305 / W, 1 - 656 / H, "年", family=["Noto Sans CJK JP"], fontsize=12.5,
         ha="center", va="center")

for (t, b), lab in zip(panels, panel_labels):
    fig.text(29 / W, 1 - (t + b) / 2 / H, lab, rotation=90, fontsize=29,
             ha="center", va="center")

trf = blended_transform_factory(ax2.transData, fig.transFigure)
y_bot = 1 - 608 / H
y_top = 1 - 18 / H
for a, b in [gap_band, end_band]:
    fig.add_artist(Rectangle((a, y_bot), b - a, y_top - y_bot, transform=trf,
                             facecolor="#c6c6c6", edgecolor="none", zorder=10))
fig.add_artist(Line2D([event_month, event_month], [y_bot, y_top], transform=trf,
                      color="#00b0f0", lw=2.0, linestyle=(0, (4, 1.6)), zorder=11))


def fp(x, y):
    return (x / W, 1 - y / H)


arrow_style = "simple,head_length=0.6,head_width=0.65,tail_width=0.26"
for (x0, y0), (x1, y1) in [((1145, 89), (1177, 38)), ((1147, 543), (1178, 510))]:
    fig.add_artist(FancyArrowPatch(fp(x0, y0), fp(x1, y1), transform=fig.transFigure,
                                   arrowstyle=arrow_style, mutation_scale=22,
                                   color="#0000f0", lw=0, shrinkA=0, shrinkB=0, zorder=12))
fig.add_artist(FancyArrowPatch(fp(1194, 137), fp(1243, 154), transform=fig.transFigure,
                               arrowstyle=arrow_style, mutation_scale=22,
                               connectionstyle="angle3,angleA=90,angleB=0",
                               color="#00a651", lw=0, shrinkA=0, shrinkB=0, zorder=12))

fig.savefig("out.png", dpi=100, facecolor="white")
